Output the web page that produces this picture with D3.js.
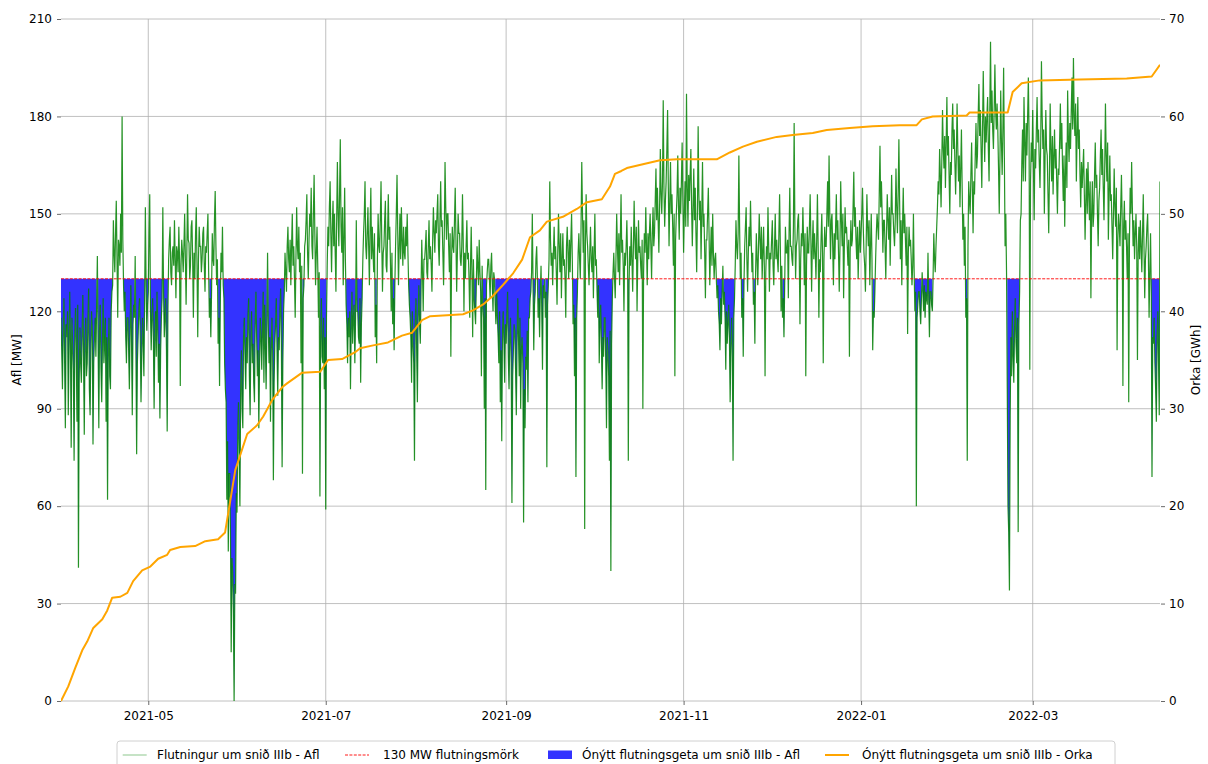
<!DOCTYPE html>
<html>
<head>
<meta charset="utf-8">
<script src="https://cdn.jsdelivr.net/npm/d3@7"></script>
<style>
  body { margin: 0; background: #fff; }
  svg { display: block; }
  text { font-family: "DejaVu Sans", sans-serif; }
</style>
</head>
<body>
<svg id="chart" width="1208" height="764"></svg>
<script>
// Transmission through cut IIIb: 6-hourly samples starting 2021-04-01 (MW), one week per row
const seriesStart = "2021-04-01";
const samplesPerDay = 4;
const flowMW = [
  118,108,96,114, 124,104,84,116, 112,120,88,106, 126,110,78,118, 110,102,74,112, 121,108,86,122, 41,98,115,104,
  98,112,125,106, 82,110,118,100, 104,116,127,96, 88,108,120,114, 79,104,112,118, 106,122,137,110, 84,114,122,102,
  92,110,124,104, 110,118,86,112, 62,108,118,100, 96,120,126,128, 148,138,132,144, 154,136,118,142, 140,134,150,138,
  180,142,128,120, 126,112,104,118, 118,108,96,114, 128,110,88,116, 122,118,137,108, 76,104,112,120, 124,112,92,106,
  118,110,100,124, 152,128,114,122, 126,144,156,120, 108,118,124,112, 90,112,120,106, 126,116,98,110, 87,108,118,124,
  152,126,112,118, 124,108,83,120, 136,142,146,132, 128,138,140,134, 148,136,124,140, 138,132,146,136, 97,134,142,138,
  132,140,150,136, 122,138,156,142, 141,130,134,146, 148,136,118,138, 130,144,152,134, 112,136,146,140, 140,132,136,144,
  146,134,126,140, 138,144,150,132, 118,124,112,126, 144,136,134,148, 157,140,128,136, 110,118,97,122, 138,132,146,128,
  124,104,96,92, 62,80,46,70, 70,52,15,44, 40,28,0,36, 33,64,58,82, 92,74,60,96, 108,90,84,112,
  118,106,96,112, 104,118,124,100, 88,110,120,104, 110,98,92,116, 126,112,100,108, 84,104,118,112, 102,114,126,98,
  122,110,96,114, 138,116,104,112, 86,106,118,108, 68,98,110,116, 124,108,94,112, 108,120,127,110, 72,104,120,126,
  138,132,126,140, 146,136,132,142, 128,140,150,134, 140,130,118,136, 152,140,136,146, 132,138,104,134, 70,124,128,140,
  142,148,156,138, 130,142,150,146, 158,140,136,150, 162,144,128,138, 146,134,118,132, 63,112,124,106, 104,118,96,112,
  59,118,134,146, 140,152,160,144, 132,146,154,140, 150,138,126,148, 166,150,140,156, 173,146,138,152, 128,142,158,136,
  122,116,104,118, 112,120,96,114, 126,110,118,122, 104,118,148,120, 120,112,110,124, 98,116,124,136, 144,150,160,140,
  136,144,152,140, 128,146,158,136, 146,138,132,144, 112,122,104,136, 150,140,138,148, 160,142,126,138, 140,148,154,134,
  132,144,156,142, 146,134,120,138, 116,124,108,128, 140,150,162,144, 128,140,150,136, 152,142,134,146, 138,136,146,140,
  150,138,128,122, 118,112,98,120, 110,104,74,116, 124,108,92,118, 128,116,110,126, 142,132,120,136, 136,140,145,132,
  130,140,148,136, 140,134,126,142, 152,144,138,148, 144,150,156,140, 134,148,160,146, 148,138,128,144, 166,152,142,150,
  150,140,132,144, 106,136,146,140, 138,148,158,142, 126,138,150,144, 144,136,134,140, 156,142,120,138, 130,140,148,136,
  138,130,118,134, 146,132,112,136, 124,120,116,128, 140,134,128,142, 132,126,100,134, 122,118,90,124, 65,128,132,136,
  136,130,124,134, 138,128,120,132, 130,122,116,126, 118,112,104,120, 92,108,80,114, 120,110,98,116, 110,118,126,106,
  96,112,118,104, 61,100,108,116, 114,102,88,110, 124,112,100,118, 90,108,112,104, 55,96,84,106, 102,114,92,118,
  118,124,126,132, 150,128,108,122, 126,136,140,130, 118,124,112,126, 134,120,102,128, 124,130,118,126, 72,122,128,136,
  160,142,134,138, 128,138,146,136, 140,132,122,138, 150,140,132,144, 124,136,144,134, 136,130,118,140, 146,138,130,142,
  132,142,150,136, 116,122,100,118, 69,118,126,138, 144,136,130,146, 166,150,138,148, 53,140,156,144, 140,134,128,138,
  146,136,132,140, 124,138,150,134, 136,126,118,128, 104,116,122,110, 96,112,106,118, 118,104,84,112, 108,100,74,114,
  40,110,124,132, 138,130,124,136, 150,140,132,144, 128,142,156,138, 142,134,120,138, 134,140,148,136, 74,128,140,134,
  146,136,126,140, 154,142,136,146, 120,136,148,138, 140,134,130,142, 90,132,144,138, 152,140,128,144, 136,144,150,140,
  130,144,152,140, 144,154,164,148, 158,148,138,152, 170,156,150,160, 185,158,146,154, 160,170,182,158, 140,154,166,150,
  156,146,134,150, 100,142,150,156, 168,152,142,158, 150,160,172,154, 138,150,160,146, 187,158,146,162, 154,162,170,152,
  140,152,164,148, 158,144,132,150, 177,156,148,154, 136,150,166,146, 150,138,124,142, 142,150,158,144, 128,138,146,134,
  150,138,130,136, 138,130,124,128, 120,116,108,124, 116,126,134,122, 126,118,102,120, 110,116,122,112, 92,110,118,106,
  74,118,124,134, 148,140,136,144, 168,146,130,138, 118,124,106,128, 140,146,152,136, 126,138,146,140, 154,142,132,138,
  122,126,110,132, 144,136,128,140, 150,142,136,146, 130,138,146,134, 100,132,140,136, 152,140,126,138, 136,142,148,134,
  128,140,150,136, 142,136,132,144, 156,140,120,134, 118,124,112,128, 146,138,138,142, 124,144,158,140, 140,136,134,146,
  178,146,130,140, 142,148,150,138, 116,136,144,140, 152,142,128,144, 100,134,146,138, 138,146,156,142, 126,140,148,136,
  144,138,130,142, 156,140,118,136, 132,142,150,138, 104,136,146,140, 140,150,160,146, 168,150,136,148, 150,140,128,144,
  136,146,156,142, 148,138,126,140, 160,148,140,150, 124,140,152,144, 146,140,134,142, 106,138,148,140, 142,152,163,146,
  152,142,136,146, 130,140,148,138, 144,150,158,146, 138,134,126,140, 156,146,140,148, 128,140,150,136, 108,120,118,126,
  136,144,150,146, 142,156,171,152, 160,150,138,148, 148,140,130,144, 156,148,142,152, 134,148,162,150, 150,144,140,148,
  164,152,144,156, 173,154,136,148, 128,146,158,144, 150,142,134,146, 113,138,146,140, 142,136,128,134, 150,132,120,126,
  60,118,122,126, 126,120,116,124, 132,126,120,128, 118,126,124,122, 138,124,112,126, 126,122,120,130, 144,136,132,140,
  146,152,160,156, 170,162,152,166, 182,170,164,174, 158,172,186,168, 174,162,150,166, 162,176,184,170, 176,166,156,168,
  184,170,160,168, 152,164,176,158, 142,150,134,146, 118,124,74,140, 160,154,150,162, 172,158,144,160, 156,168,178,164,
  168,180,190,174, 182,170,158,176, 194,178,166,180, 172,180,186,170, 160,182,203,178, 188,176,170,182, 196,182,176,184,
  176,164,150,168, 188,172,162,176, 195,168,140,150, 132,96,60,52, 34,88,112,100, 120,106,98,114, 124,110,104,118,
  52,116,126,148, 150,166,176,160, 186,172,160,178, 168,180,192,174, 102,160,172,166, 182,164,148,170, 164,176,186,172,
  176,166,158,172, 197,180,170,176, 150,168,182,170, 168,156,144,162, 184,170,160,174, 156,168,176,164, 170,160,150,164,
  162,172,184,170, 178,164,154,168, 146,162,172,158, 188,174,166,178, 170,182,192,176, 198,180,174,184, 160,174,186,170,
  176,162,152,166, 158,164,170,156, 142,154,164,150, 166,156,148,160, 124,150,160,146, 150,162,172,158, 162,150,140,154,
  158,168,176,162, 170,158,148,164, 184,168,160,172, 142,156,168,154, 156,146,136,150, 164,152,146,158, 108,142,150,146,
  140,152,162,148, 97,146,154,142, 148,140,130,144, 92,142,158,150, 166,152,140,148, 136,144,150,140, 105,138,146,136,
  148,140,132,144, 156,140,124,136, 140,146,150,138, 118,132,144,126, 69,112,110,118, 104,96,86,112, 120,104,88,160
];

// Transmission limit of the cut (MW)
const limitMW = 130;

// Cumulative unused transmission capacity (GWh), by day since series start
const energyDay = [
  0, 2.5, 4.9, 7.3, 9.0, 11.1, 14.2, 15.9, 17.6, 20.4, 22.8, 24.8, 27.9, 30.7,
  33.4, 36.5, 37.5, 41.0, 46.1, 49.6, 54.0, 56.4, 59.9, 64.0, 67.4, 69.5, 72.6,
  76.0, 77.7, 82.9, 89.1, 91.8, 96.6, 101.1, 102.8, 107.3, 112.4, 117.2, 120.7,
  124.1, 126.9, 132.7, 138.2, 141.6, 145.1, 148.5, 151.9, 155.4, 158.5, 161.2,
  164.6, 167.0, 172.5, 177.3, 180.8, 185.9, 188.7, 190.4, 192.6, 194.5, 200.0,
  205.9, 211.7, 225.4, 229.9, 234.4, 239.2, 246.0, 251.5, 258.4, 263.2, 271.1,
  279.0, 288.3, 294.1, 295.9, 299.6, 311.3, 312.3, 325.4, 327.1, 330.2, 336.4,
  350.1, 366.3, 374.9, 377.75
];
const energyGWh = [
  0, 1.5, 3.4, 5.2, 6.1, 7.5, 8.4, 9.3, 10.6, 10.7, 11.1, 12.3, 13.4, 13.8,
  14.6, 15.0, 15.5, 15.8, 15.9, 16.4, 16.6, 17.3, 23.7, 27.4, 28.3, 29.2, 30.9,
  32.2, 32.6, 33.7, 33.8, 35.0, 35.1, 35.8, 36.2, 36.5, 36.8, 37.5, 37.8,
  39.1, 39.5, 39.6, 39.7, 40.1, 40.7, 41.6, 42.7, 43.9, 45.3, 47.6,
  48.3, 49.2, 49.7, 50.5, 51.2, 51.5, 52.8, 54.1, 54.4, 54.7, 55.1,
  55.5, 55.6, 55.6, 56.3, 56.9, 57.4, 57.9, 58.1, 58.3, 58.6, 58.8,
  59.0, 59.1, 59.1, 59.7, 60.0, 60.1, 60.4, 60.4, 62.5, 63.4, 63.7,
  63.8, 63.9, 64.1, 65.3
];

const leftTicks = [0, 30, 60, 90, 120, 150, 180, 210];
const rightTicks = [0, 10, 20, 30, 40, 50, 60, 70];
const monthTicks = ["2021-05-01", "2021-07-01", "2021-09-01", "2021-11-01", "2022-01-01", "2022-03-01"];

const legendLabels = [
  "Flutningur um snið IIIb - Afl",
  "130 MW flutningsmörk",
  "Ónýtt flutningsgeta um snið IIIb - Afl",
  "Ónýtt flutningsgeta um snið IIIb - Orka"
];
const leftTitle = "Afl [MW]";
const rightTitle = "Orka [GWh]";

// ---------------------------------------------------------------------------
const DAY = 864e5;
const parseDay = d3.utcParse("%Y-%m-%d");
const t0 = parseDay(seriesStart);
const flow = flowMW.map((v, i) => ({ t: new Date(+t0 + i * DAY / samplesPerDay), v }));
const energy = energyDay.map((d, i) => ({ t: new Date(+t0 + d * DAY), v: energyGWh[i] }));

const box = { left: 61, right: 1160, top: 19, bottom: 701 };
const svg = d3.select("#chart");

const x = d3.scaleUtc()
  .domain([flow[0].t, flow[flow.length - 1].t])
  .range([box.left, box.right]);
const yL = d3.scaleLinear().domain([0, 210]).range([box.bottom, box.top]);
const yR = d3.scaleLinear().domain([0, 70]).range([box.bottom, box.top]);
const monthDates = monthTicks.map(parseDay);

// grid
const grid = svg.append("g").attr("stroke", "#b0b0b0").attr("stroke-width", 0.8);
grid.selectAll("line.h").data(leftTicks).join("line")
  .attr("x1", box.left).attr("x2", box.right)
  .attr("y1", d => yL(d)).attr("y2", d => yL(d));
grid.selectAll("line.v").data(monthDates).join("line")
  .attr("x1", d => x(d)).attr("x2", d => x(d))
  .attr("y1", box.top).attr("y2", box.bottom);

const plot = svg.append("g");
plot.append("clipPath").attr("id", "clip").append("rect")
  .attr("x", box.left).attr("y", box.top - 2)
  .attr("width", box.right - box.left).attr("height", box.bottom - box.top + 4);
const inner = plot.append("g").attr("clip-path", "url(#clip)");

// unused capacity: filled between the limit and the flow where consecutive samples lie below it
const unusedArea = d3.area()
  .defined(d => d.v < limitMW)
  .x(d => x(d.t))
  .y0(yL(limitMW))
  .y1(d => yL(d.v));
inner.append("path").datum(flow)
  .attr("d", unusedArea)
  .attr("fill", "#3333ff");

// flow
inner.append("path").datum(flow)
  .attr("d", d3.line().x(d => x(d.t)).y(d => yL(d.v)))
  .attr("fill", "none")
  .attr("stroke", "#008000")
  .attr("stroke-opacity", 0.85)
  .attr("stroke-width", 1.2)
  .attr("stroke-linejoin", "miter");

// limit
inner.append("line")
  .attr("x1", box.left).attr("x2", box.right)
  .attr("y1", yL(limitMW)).attr("y2", yL(limitMW))
  .attr("stroke", "#ff0000").attr("stroke-width", 0.9)
  .attr("stroke-dasharray", "3,1.4");

// cumulative unused energy
inner.append("path").datum(energy)
  .attr("d", d3.line().x(d => x(d.t)).y(d => yR(d.v)))
  .attr("fill", "none")
  .attr("stroke", "#ffa500")
  .attr("stroke-width", 2)
  .attr("stroke-linejoin", "round");

// axes
function styleAxis(g) {
  g.select(".domain").remove();
  g.selectAll(".tick line").attr("stroke", "#444").attr("stroke-width", 0.8);
  g.selectAll(".tick text").attr("fill", "#000")
    .style("font-family", "'DejaVu Sans', sans-serif").style("font-size", "12px");
}
svg.append("g").attr("transform", `translate(${box.left},0)`)
  .call(d3.axisLeft(yL).tickValues(leftTicks).tickSize(4).tickPadding(5))
  .call(styleAxis);
svg.append("g").attr("transform", `translate(${box.right + 1},0)`)
  .call(d3.axisRight(yR).tickValues(rightTicks).tickSize(4).tickPadding(4))
  .call(styleAxis);
svg.append("g").attr("transform", `translate(0,${box.bottom})`)
  .call(d3.axisBottom(x).tickValues(monthDates).tickFormat(d3.utcFormat("%Y-%m")).tickSize(4).tickPadding(6))
  .call(styleAxis);

// axis titles
svg.append("text")
  .attr("transform", `translate(21,${(box.top + box.bottom) / 2}) rotate(-90)`)
  .attr("text-anchor", "middle").style("font-size", "12px").attr("fill", "#000")
  .text(leftTitle);
svg.append("text")
  .attr("transform", `translate(1200,${(box.top + box.bottom) / 2}) rotate(-90)`)
  .attr("text-anchor", "middle").style("font-size", "12px").attr("fill", "#000")
  .text(rightTitle);

// legend
const lg = svg.append("g");
lg.append("rect")
  .attr("x", 117).attr("y", 741).attr("width", 998).attr("height", 30).attr("rx", 3)
  .attr("fill", "#fff").attr("fill-opacity", 0.85)
  .attr("stroke", "#d0d0d0").attr("stroke-width", 1);
const rowY = 755;
const handleX = [122.7, 345, 548, 825];
const labelX = [157, 383, 582, 862];
legendLabels.forEach((label, i) => {
  const h = lg.append("g");
  const hx = handleX[i];
  if (i === 0) {
    h.append("line").attr("x1", hx).attr("x2", hx + 24).attr("y1", rowY).attr("y2", rowY)
      .attr("stroke", "#008000").attr("stroke-opacity", 0.45).attr("stroke-width", 1);
  } else if (i === 1) {
    h.append("line").attr("x1", hx).attr("x2", hx + 24).attr("y1", rowY).attr("y2", rowY)
      .attr("stroke", "#ff0000").attr("stroke-width", 0.9).attr("stroke-dasharray", "3,1.4");
  } else if (i === 2) {
    h.append("rect").attr("x", hx).attr("y", rowY - 4.5).attr("width", 24).attr("height", 8.5)
      .attr("fill", "#3333ff");
  } else {
    h.append("line").attr("x1", hx).attr("x2", hx + 24).attr("y1", rowY).attr("y2", rowY)
      .attr("stroke", "#ffa500").attr("stroke-width", 2);
  }
  h.append("text").attr("x", labelX[i]).attr("y", rowY + 4.3)
    .style("font-size", "12px").attr("fill", "#000").text(label);
});
</script>
</body>
</html>
